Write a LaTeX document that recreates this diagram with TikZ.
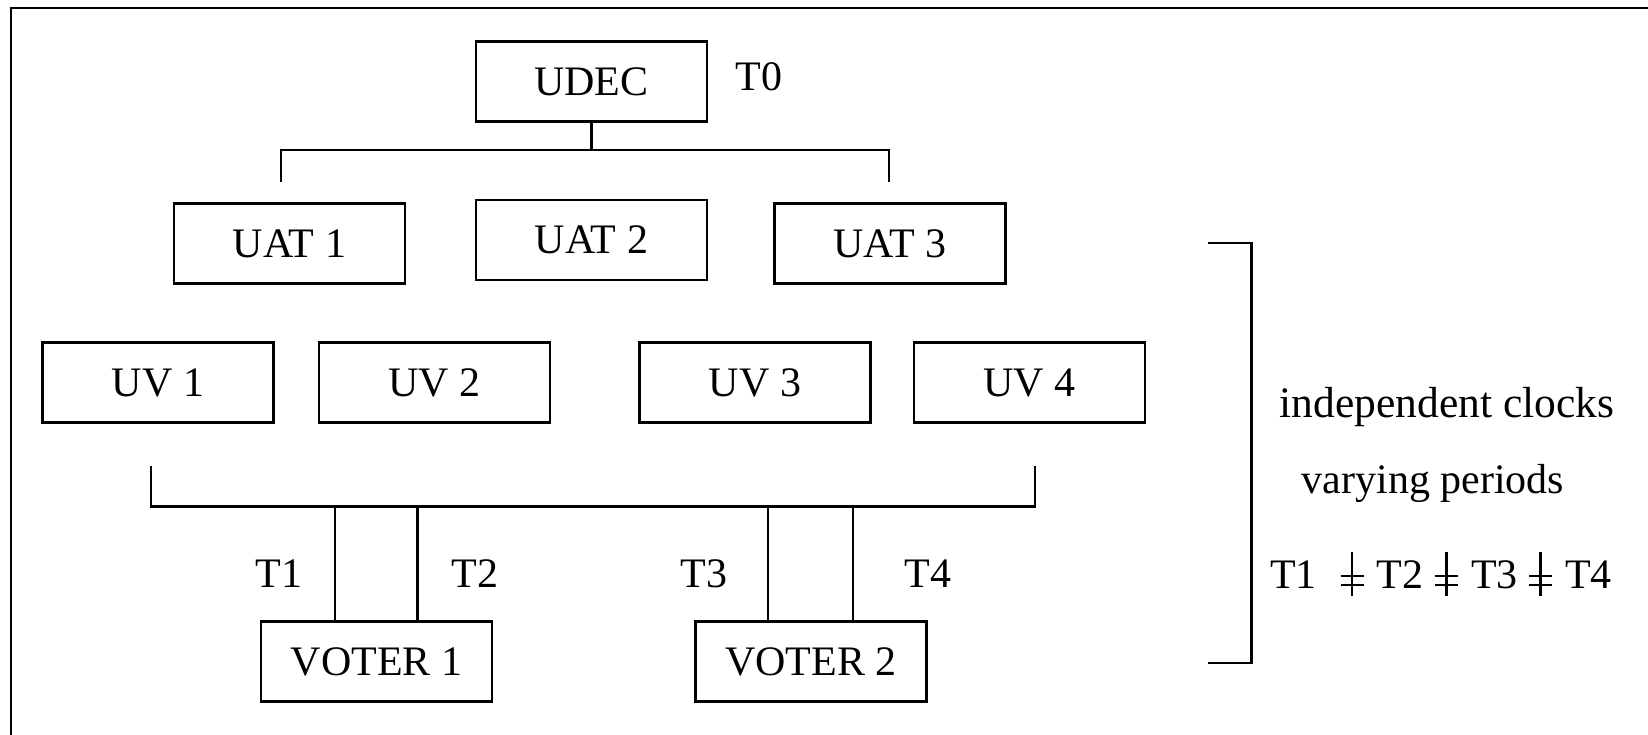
\documentclass[tikz,border=0pt]{standalone}
\usepackage{fontspec}
\setmainfont{Liberation Serif}
\newcommand\noteq{\hbox to 0.58em{\hss\rlap{\raisebox{0.06em}{\rule{0.55em}{0.05em}}}\rlap{\raisebox{0.28em}{\rule{0.55em}{0.05em}}}\kern0.245em\rule[-0.19em]{0.06em}{1.07em}\kern0.245em\hss}}
\begin{document}
\begin{tikzpicture}[x=1pt,y=-1pt,
  box/.style={draw,line width=2.2pt,minimum width=231pt,minimum height=80pt,inner sep=0pt,font=\fontsize{42}{48}\selectfont},
  lbl/.style={inner sep=0pt,font=\fontsize{42}{48}\selectfont},
  wire/.style={line width=2.2pt}]
\useasboundingbox (0,0) rectangle (1648,735);
\draw[line width=2.4pt] (11,740) -- (11,8) -- (1655,8);
% top level
\node[box] (udec) at (591.5,81.5) {UDEC};
\node[lbl] (t0) at (759,77) {T0};
\node[box] (uat1) at (289.5,243.5) {UAT 1};
\node[box] (uat2) at (591.5,240) {UAT 2};
\node[box] (uat3) at (890,243.5) {UAT 3};
\coordinate (j0) at (udec.south |- 0,150);
\coordinate (j1) at (281,150);
\coordinate (j2) at (889,150);
\coordinate (d1) at (281,182);
\coordinate (d2) at (889,182);
\draw[wire] (udec.south) -- (j0);
\draw[wire] (d1) -- (j1) -- (j2) -- (d2);
% UVs
\node[box] (uv1) at (158,382.5) {UV 1};
\node[box] (uv2) at (434.5,382.5) {UV 2};
\node[box] (uv3) at (755,382.5) {UV 3};
\node[box] (uv4) at (1029.5,382.5) {UV 4};
\coordinate (b1) at (151,466);
\coordinate (b2) at (151,506.5);
\coordinate (b3) at (1035,506.5);
\coordinate (b4) at (1035,466);
\draw[wire] (b1) -- (b2) -- (b3) -- (b4);
% voters
\node[box] (v1) at (376.5,661.5) {VOTER 1};
\node[box] (v2) at (811,661.5) {VOTER 2};
\draw[wire] (v1.north -| 335,0) -- (335,506.5);
\draw[wire] (v1.north -| 417.5,0) -- (417.5,506.5);
\draw[wire] (v2.north -| 768,0) -- (768,506.5);
\draw[wire] (v2.north -| 853,0) -- (853,506.5);
\node[lbl] (t1) at (279,574) {T1};
\node[lbl] (t2) at (475,574) {T2};
\node[lbl] (t3) at (704,574) {T3};
\node[lbl] (t4) at (928,574) {T4};
% right bracket
\coordinate (r1) at (1208,243);
\coordinate (r2) at (1251.5,243);
\coordinate (r3) at (1251.5,663);
\coordinate (r4) at (1208,663);
\draw[wire] (r1) -- (r2) -- (r3) -- (r4);
\node[lbl,font=\fontsize{43.5}{48}\selectfont] (ic) at (1447,407) {independent clocks};
\node[lbl] (vp) at (1433,483) {varying periods};
\node[lbl] (tt) at (1441,574) {T1\hspace{0.55em}\noteq\hspace{0.3em}T2\hspace{0.25em}\noteq\hspace{0.3em}T3\hspace{0.25em}\noteq\hspace{0.3em}T4};
\end{tikzpicture}
\end{document}
